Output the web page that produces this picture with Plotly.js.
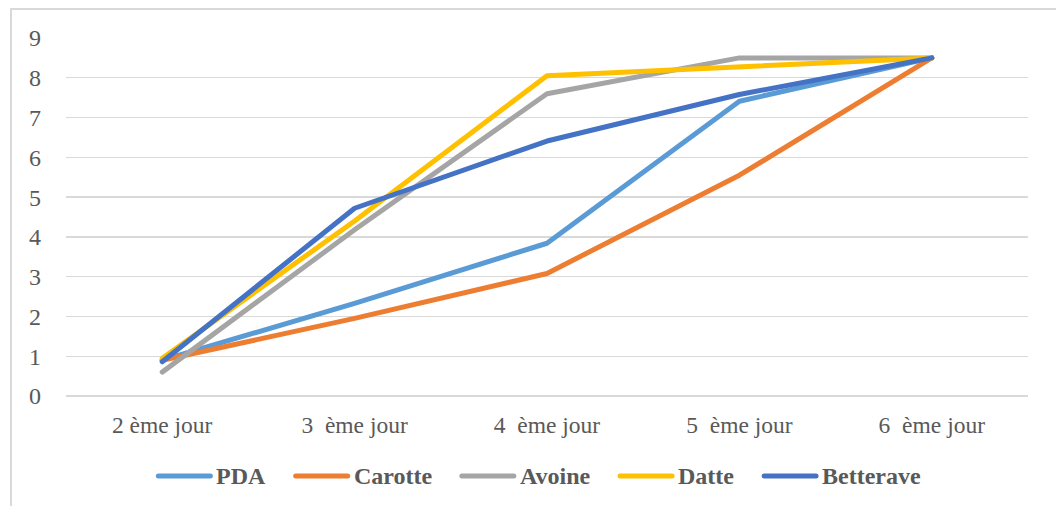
<!DOCTYPE html>
<html>
<head>
<meta charset="utf-8">
<script src="https://cdn.plot.ly/plotly-3.0.1.min.js"></script>
<style>
  html, body { margin: 0; padding: 0; background: #ffffff; }
  #wrap { position: relative; width: 1056px; height: 506px; overflow: hidden; }
  #chart { position: absolute; left: 0; top: 0; width: 1056px; height: 506px; }
  #frame { position: absolute; left: 10px; top: 8px; width: 1100px; height: 600px;
           border-left: 2px solid #d9d9d9; border-top: 2px solid #d9d9d9; pointer-events: none; }
  #chart .scatterlayer path.js-line { stroke-linecap: round; stroke-linejoin: round; }
  #chart .shapelayer path { stroke-linecap: round; }
</style>
</head>
<body>
<div id="wrap">
  <div id="chart"></div>
  <div id="frame"></div>
</div>
<script>
// Days of measurement
const days = ["2 ème jour", "3 \u00a0ème jour", "4 \u00a0ème jour", "5 \u00a0ème jour", "6 \u00a0ème jour"];

// Growth values per medium
const pda       = [0.90, 2.33, 3.84, 7.41, 8.50];
const carotte   = [0.90, 1.95, 3.08, 5.55, 8.50];
const avoine    = [0.60, 4.18, 7.60, 8.50, 8.50];
const datte     = [0.95, 4.40, 8.05, 8.27, 8.50];
const betterave = [0.86, 4.72, 6.41, 7.58, 8.50];

const seriesNames  = ["PDA", "Carotte", "Avoine", "Datte", "Betterave"];
const seriesValues = [pda, carotte, avoine, datte, betterave];
const seriesColors = ["#5B9BD5", "#ED7D31", "#A5A5A5", "#FFC000", "#4472C4"];

const serif = "Liberation Serif";
const W = 1056, H = 506;
const M = { l: 66, r: 28, t: 38, b: 110 };
const plotW = W - M.l - M.r;
const plotH = H - M.t - M.b;

const traces = seriesNames.map((name, i) => ({
  type: "scatter",
  mode: "lines",
  name: name,
  x: days,
  y: seriesValues[i],
  line: { color: seriesColors[i], width: 5 },
  hoverinfo: "skip"
}));

// Legend row below the axis: long line swatches followed by bold labels,
// laid out from measured label widths and centred under the chart.
const legendFontSize = 24;
const swatchLen = 56, swatchGap = 3, itemGap = 29;
const legendCenterPx = 538, legendRowPx = 476;
const ctx = document.createElement("canvas").getContext("2d");
ctx.font = "bold " + legendFontSize + "px '" + serif + "'";
const labelWidths = seriesNames.map(n => ctx.measureText(n).width);
const totalW = labelWidths.reduce((s, w) => s + swatchLen + swatchGap + w, 0) + itemGap * (seriesNames.length - 1);
const toPaperX = px => (px - M.l) / plotW;
const legendY = (H - M.b - legendRowPx) / plotH;

const shapes = [];
const annotations = [];
let cursor = legendCenterPx - totalW / 2;
seriesNames.forEach((name, i) => {
  shapes.push({
    type: "line", xref: "paper", yref: "paper",
    x0: toPaperX(cursor + 2), x1: toPaperX(cursor + swatchLen - 2),
    y0: legendY, y1: legendY,
    line: { color: seriesColors[i], width: 5 }
  });
  annotations.push({
    xref: "paper", yref: "paper",
    x: toPaperX(cursor + swatchLen + swatchGap), y: legendY,
    xanchor: "left", yanchor: "middle",
    text: "<b>" + name + "</b>", showarrow: false,
    font: { family: serif, size: legendFontSize, color: "#595959" },
    borderpad: 0
  });
  cursor += swatchLen + swatchGap + labelWidths[i] + itemGap;
});

const layout = {
  width: W,
  height: H,
  margin: { l: M.l, r: M.r, t: M.t, b: M.b, autoexpand: false },
  paper_bgcolor: "#ffffff",
  plot_bgcolor: "#ffffff",
  font: { family: serif, color: "#595959", size: 23.5 },
  showlegend: false,
  shapes: shapes,
  annotations: annotations,
  xaxis: {
    type: "category",
    range: [-0.5, 4.5],
    showgrid: false,
    zeroline: false,
    showline: false,
    ticks: "",
    ticklabelstandoff: 12,
    tickfont: { family: serif, size: 23.5, color: "#595959" },
    fixedrange: true
  },
  yaxis: {
    range: [0, 9],
    dtick: 1,
    showgrid: true,
    gridcolor: "#d9d9d9",
    gridwidth: 1.3,
    zeroline: true,
    zerolinecolor: "#d9d9d9",
    zerolinewidth: 1.3,
    showline: false,
    ticks: "",
    ticklabelstandoff: 24,
    tickfont: { family: serif, size: 24, color: "#595959" },
    fixedrange: true
  }
};

Plotly.newPlot("chart", traces, layout, { displayModeBar: false, staticPlot: true });
</script>
</body>
</html>
